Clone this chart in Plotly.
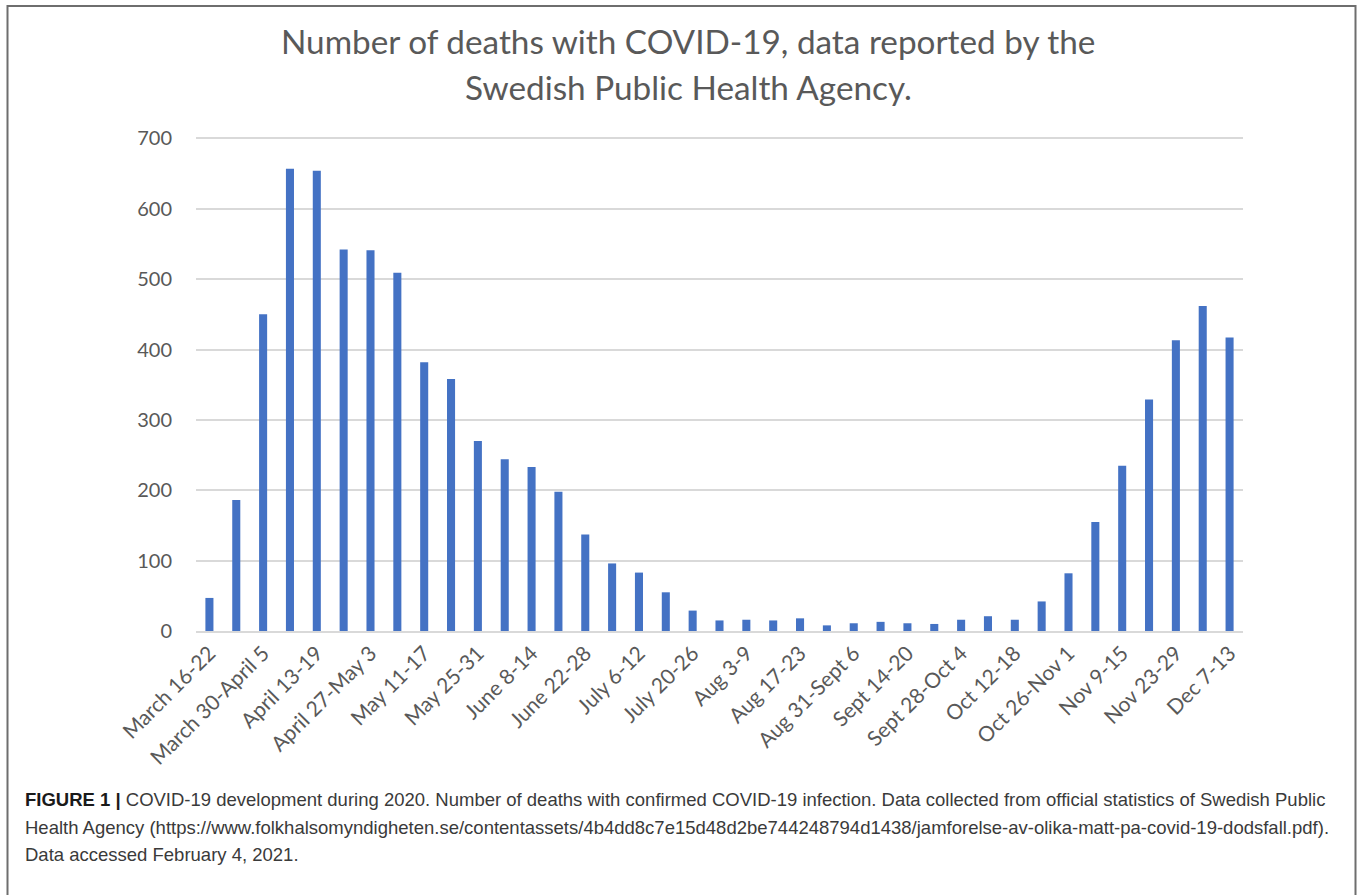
import plotly.graph_objects as go

categories = [
    "March 16-22", "March 23-29", "March 30-April 5", "April 6-12", "April 13-19",
    "April 20-26", "April 27-May 3", "May 4-10", "May 11-17", "May 18-24",
    "May 25-31", "June 1-7", "June 8-14", "June 15-21", "June 22-28",
    "June 29-July 5", "July 6-12", "July 13-19", "July 20-26", "July 27-Aug 2",
    "Aug 3-9", "Aug 10-16", "Aug 17-23", "Aug 24-30", "Aug 31-Sept 6",
    "Sept 7-13", "Sept 14-20", "Sept 21-27", "Sept 28-Oct 4", "Oct 5-11",
    "Oct 12-18", "Oct 19-25", "Oct 26-Nov 1", "Nov 2-8", "Nov 9-15",
    "Nov 16-22", "Nov 23-29", "Nov 30-Dec 6", "Dec 7-13",
]
deaths = [
    47, 186, 450, 657, 654,
    542, 541, 509, 382, 358,
    270, 244, 233, 198, 137,
    96, 83, 55, 29, 15,
    16, 15, 18, 8, 11,
    13, 11, 10, 16, 21,
    16, 42, 82, 155, 235,
    329, 413, 462, 417,
]
tick_labels = categories[::2]
y_ticks = [0, 100, 200, 300, 400, 500, 600, 700]

title_lines = [
    "Number of deaths with COVID-19, data reported by the",
    "Swedish Public Health Agency.",
]
caption_lines = [
    "<b><span style='color:#1a1a1a'>FIGURE 1 |</span></b> COVID-19 development during 2020. Number of deaths with confirmed COVID-19 infection. Data collected from official statistics of Swedish Public",
    "Health Agency (https://www.folkhalsomyndigheten.se/contentassets/4b4dd8c7e15d48d2be744248794d1438/jamforelse-av-olika-matt-pa-covid-19-dodsfall.pdf).",
    "Data accessed February 4, 2021.",
]

W, H = 1358, 895
L, R, T, B = 196, 1243, 136.6, 631


def px(x):
    return (x - L) / (R - L)


def py(y):
    return (B - y) / (B - T)


fig = go.Figure()
fig.add_trace(go.Bar(
    x=categories, y=deaths,
    marker=dict(color="#4472C4", line=dict(width=0)),
    hoverinfo="x+y",
))

annotations = []
for txt, yy in zip(title_lines, [41, 87]):
    annotations.append(dict(
        text=txt, x=px(688), y=py(yy), xref="paper", yref="paper",
        xanchor="center", yanchor="middle", showarrow=False,
        font=dict(family="Lato", size=33.3, color="#595959"),
    ))
for txt, yy in zip(caption_lines, [800, 828, 855]):
    annotations.append(dict(
        text=txt, x=px(23), y=py(yy), xref="paper", yref="paper",
        xanchor="left", yanchor="middle", showarrow=False, align="left",
        font=dict(family="Liberation Sans", size=18.5, color="#3a3a3a"),
    ))

fig.update_layout(
    width=W, height=H,
    margin=dict(l=L, r=W - R, t=T, b=H - B, pad=0),
    paper_bgcolor="white", plot_bgcolor="white",
    bargap=0.7,
    showlegend=False,
    annotations=annotations,
    font=dict(family="Lato", color="#595959"),
    shapes=[dict(
        type="rect", xref="paper", yref="paper",
        xsizemode="pixel", ysizemode="pixel", xanchor=0, yanchor=0,
        x0=7.5 - L, x1=1355.5 - L, y0=-(H + 10 - B), y1=B - 6,
        line=dict(color="#6e6e6e", width=2), fillcolor="rgba(0,0,0,0)",
        layer="above",
    )],
)
fig.update_xaxes(
    type="category", tickmode="array", tickvals=tick_labels, ticktext=tick_labels,
    tickangle=-45, tickfont=dict(family="Lato", size=21, color="#595959"),
    showgrid=False, showline=True, linecolor="#d9d9d9", linewidth=1.5,
    ticks="", ticklen=0,
    fixedrange=True,
)
fig.update_yaxes(
    range=[0, 702], tickmode="array", tickvals=y_ticks,
    tickfont=dict(family="Lato", size=20, color="#595959"),
    showgrid=True, gridcolor="#d9d9d9", gridwidth=1.5,
    zeroline=False, showline=False,
    ticks="outside", ticklen=19, tickcolor="rgba(0,0,0,0)",
    fixedrange=True,
)

fig.write_html(
    "out.html",
    config={"displayModeBar": False},
    post_script="document.body.style.margin='0';document.documentElement.style.overflow='hidden';",
)
